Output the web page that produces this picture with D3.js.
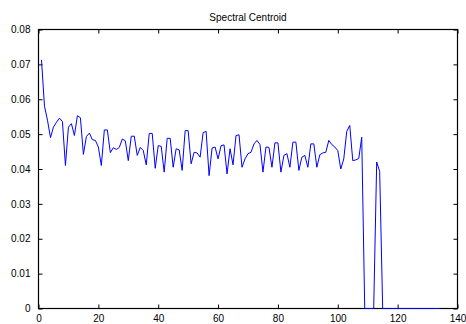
<!DOCTYPE html>
<html>
<head>
<meta charset="utf-8">
<script src="https://cdn.jsdelivr.net/npm/d3@7"></script>
<style>
  body { margin: 0; background: #fff; }
  svg text { font-family: "Liberation Sans", Arial, sans-serif; }
</style>
</head>
<body>
<div id="chart-area"></div>
<script>
// spectral centroid per frame, frames 1..134
var centroid = [
  0.0713, 0.0580, 0.0540, 0.0490, 0.0520, 0.0534, 0.0546, 0.0536, 0.0410, 0.0520,
  0.0530, 0.0496, 0.0553, 0.0547, 0.0442, 0.0493, 0.0503, 0.0484, 0.0482, 0.0463,
  0.0410, 0.0512, 0.0512, 0.0447, 0.0461, 0.0456, 0.0462, 0.0486, 0.0481, 0.0424,
  0.0494, 0.0494, 0.0439, 0.0462, 0.0453, 0.0412, 0.0502, 0.0502, 0.0402, 0.0467,
  0.0465, 0.0391, 0.0488, 0.0488, 0.0405, 0.0458, 0.0455, 0.0396, 0.0510, 0.0510,
  0.0415, 0.0448, 0.0446, 0.0434, 0.0504, 0.0508, 0.0381, 0.0460, 0.0463, 0.0429,
  0.0467, 0.0469, 0.0386, 0.0458, 0.0412, 0.0496, 0.0498, 0.0405, 0.0429, 0.0444,
  0.0448, 0.0472, 0.0482, 0.0470, 0.0391, 0.0463, 0.0462, 0.0405, 0.0475, 0.0475,
  0.0391, 0.0439, 0.0444, 0.0405, 0.0477, 0.0477, 0.0396, 0.0434, 0.0439, 0.0405,
  0.0472, 0.0472, 0.0405, 0.0441, 0.0446, 0.0448, 0.0482, 0.0470, 0.0463, 0.0453,
  0.0400, 0.0429, 0.0508, 0.0525, 0.0424, 0.0426, 0.0430, 0.0491, 0, 0,
  0, 0, 0.0420, 0.0393, 0, 0, 0, 0, 0, 0,
  0, 0, 0, 0, 0, 0, 0, 0, 0, 0,
  0, 0, 0, 0
];
var xTicks = [0, 20, 40, 60, 80, 100, 120, 140];
var yTicks = [0, 0.01, 0.02, 0.03, 0.04, 0.05, 0.06, 0.07, 0.08];
var title = "Spectral Centroid";

var margin = {left: 38, right: 9, top: 29, bottom: 16};
var width = 466 - margin.left - margin.right,
    height = 324 - margin.top - margin.bottom;

var svg = d3.select("#chart-area")
  .append("svg")
  .attr("width", 466)
  .attr("height", 324);

var g = svg.append("g")
  .attr("transform", "translate(" + (margin.left + 0.5) + "," + (margin.top + 0.5) + ")");

var x = d3.scaleLinear().domain([0, 140]).range([0, width]);
var y = d3.scaleLinear().domain([0, 0.08]).range([height, 0]);

// axes, ticks pointing inward
function styleAxis(sel) {
  sel.select(".domain").remove();
  sel.selectAll(".tick line").attr("stroke", "#000");
  sel.selectAll("text")
    .attr("fill", "#000")
    .style("font-size", "10px");
}

g.append("g")
  .attr("transform", "translate(0," + height + ")")
  .call(d3.axisBottom(x).tickValues(xTicks).tickSizeInner(-4).tickSizeOuter(0).tickPadding(6))
  .call(styleAxis);

g.append("g")
  .call(d3.axisLeft(y).tickValues(yTicks).tickFormat(d3.format("~g")).tickSizeInner(-4).tickSizeOuter(0).tickPadding(8))
  .call(styleAxis);

g.append("g")
  .call(d3.axisTop(x).tickValues(xTicks).tickFormat("").tickSizeInner(-4).tickSizeOuter(0))
  .call(styleAxis);

g.append("g")
  .attr("transform", "translate(" + width + ",0)")
  .call(d3.axisRight(y).tickValues(yTicks).tickFormat("").tickSizeInner(-4).tickSizeOuter(0))
  .call(styleAxis);

// box
g.append("rect")
  .attr("width", width)
  .attr("height", height)
  .attr("fill", "none")
  .attr("stroke", "#000")
  .attr("stroke-width", 1.2);

// data line, drawn over the box
var line = d3.line()
  .x(function (d, i) { return x(i + 1); })
  .y(function (d) { return y(d); });

g.append("path")
  .datum(centroid)
  .attr("fill", "none")
  .attr("stroke", "#0000ff")
  .attr("stroke-width", 1)
  .attr("d", line);

// title
g.append("text")
  .attr("x", width / 2)
  .attr("y", -9)
  .attr("text-anchor", "middle")
  .style("font-size", "10px")
  .text(title);
</script>
</body>
</html>
